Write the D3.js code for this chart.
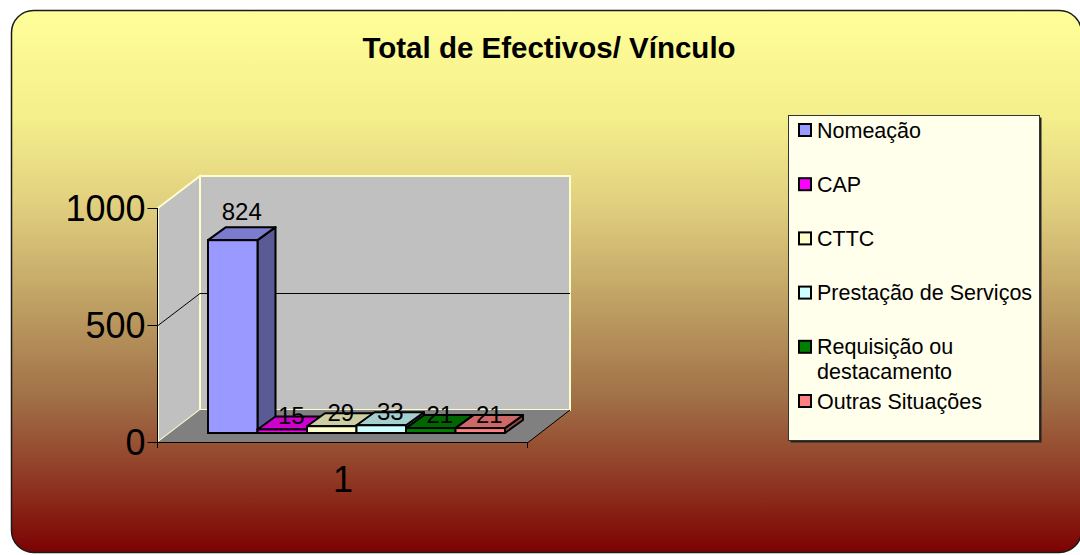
<!DOCTYPE html>
<html>
<head>
<meta charset="utf-8">
<script src="https://cdn.jsdelivr.net/npm/d3@7"></script>
<style>
  html, body { margin: 0; padding: 0; background: #fff; }
  svg { display: block; font-family: 'Liberation Sans', Arial, sans-serif; }
</style>
</head>
<body>
<div class="svg-container"></div>
<script>
const categories = ['1']
const seriesNames = ['Nomeação', 'CAP', 'CTTC', 'Prestação de Serviços', 'Requisição ou destacamento', 'Outras Situações']
const seriesValues = [824, 15, 29, 33, 21, 21]
const seriesColors = ['#9999FF', '#FF00FF', '#FFFFCC', '#CCFFFF', '#008000', '#FF8080']
const yTicks = [0, 500, 1000]
const legendLines = [['Nomeação'], ['CAP'], ['CTTC'], ['Prestação de Serviços'], ['Requisição ou', 'destacamento'], ['Outras Situações']]

const svgWidth = 1080
const svgHeight = 555

// 3d geometry: front plane and the offset of the back plane
const depth = { dx: 42, dy: -32 }
const barOffset = { dx: 12, dy: -9 }
const barDepth = { dx: 18, dy: -13 }

const svg = d3
  .select('.svg-container')
  .append('svg')
  .attr('width', svgWidth)
  .attr('height', svgHeight)

const defs = svg.append('defs')
const grad = defs
  .append('linearGradient')
  .attr('id', 'bg')
  .attr('x1', 0).attr('y1', 0).attr('x2', 0).attr('y2', 1)
const stops = [[0, '#FFFF99'], [0.2, '#F4EE8B'], [0.35, '#E2D180'], [0.55, '#BD9E62'], [0.72, '#A06E46'], [0.85, '#923E27'], [1, '#7C0202']]
stops.forEach(([o, c]) => grad.append('stop').attr('offset', o).attr('stop-color', c))

svg
  .append('rect')
  .attr('x', 11.5)
  .attr('y', 10.5)
  .attr('width', 1070)
  .attr('height', 542)
  .attr('rx', 22)
  .attr('fill', 'url(#bg)')
  .attr('stroke', '#1a1a1a')
  .attr('stroke-width', 1.5)

svg
  .append('text')
  .attr('x', 549)
  .attr('y', 58)
  .attr('text-anchor', 'middle')
  .style('font-size', '29.5px')
  .style('font-weight', 'bold')
  .text('Total de Efectivos/ Vínculo')

const xScale = d3.scaleBand(categories, [158, 528])
const yScale = d3.scaleLinear([0, 1000], [442, 208])
const labelScale = d3.scaleLinear([0, 1000], [428, 176])
const seriesScale = d3.scaleBand(seriesNames, [xScale('1') + 38, xScale('1') + 335])

const x0 = xScale.range()[0]
const x1 = xScale.range()[1]
const y0 = yScale(0)
const yMax = yScale(1000)

const pts = (arr) => arr.map((p) => p.join(',')).join(' ')

// left wall
svg
  .append('polygon')
  .attr('points', pts([[x0, yMax], [x0 + depth.dx, yMax + depth.dy], [x0 + depth.dx, y0 + depth.dy], [x0, y0]]))
  .attr('fill', '#C0C0C0')
  .attr('stroke', '#FFFFCC')
  .attr('stroke-width', 2)

// back wall
svg
  .append('rect')
  .attr('x', x0 + depth.dx)
  .attr('y', yMax + depth.dy)
  .attr('width', x1 - x0)
  .attr('height', y0 - yMax)
  .attr('fill', '#C0C0C0')
  .attr('stroke', '#FFFFCC')
  .attr('stroke-width', 2)

// floor
svg
  .append('polygon')
  .attr('points', pts([[x0, y0], [x0 + depth.dx, y0 + depth.dy], [x1 + depth.dx, y0 + depth.dy], [x1, y0]]))
  .attr('fill', '#808080')

svg
  .append('polyline')
  .attr('points', pts([[x0, y0 + 0.5], [x1, y0 + 0.5], [x1 + depth.dx, y0 + depth.dy]]))
  .attr('fill', 'none')
  .attr('stroke', '#000')
  .attr('stroke-width', 1)

// gridlines
yTicks.filter((t) => t > 0 && t < 1000).forEach((t) => {
  const y = yScale(t) + 0.5
  svg
    .append('polyline')
    .attr('points', pts([[x0, y], [x0 + depth.dx, y + depth.dy], [x1 + depth.dx, y + depth.dy]]))
    .attr('fill', 'none')
    .attr('stroke', '#000')
    .attr('stroke-width', 1)
})

// y axis
const yAxis = svg.append('g').attr('transform', `translate(${x0 - 0.5}, 0)`)
yAxis
  .append('line')
  .attr('y1', yMax)
  .attr('y2', y0)
  .attr('stroke', '#000')
yAxis
  .selectAll('.tick')
  .data(yTicks)
  .join('g')
  .classed('tick', true)
  .each(function (d) {
    const g = d3.select(this)
    g.append('line')
      .attr('x1', -10)
      .attr('x2', 0)
      .attr('y1', yScale(d) + 0.5)
      .attr('y2', yScale(d) + 0.5)
      .attr('stroke', '#000')
    g.append('text')
      .attr('x', -12)
      .attr('y', yScale(d) + 12.5)
      .attr('text-anchor', 'end')
      .style('font-size', '36px')
      .text(d)
  })

// x axis ticks and label
;[x0, x1].forEach((x) => {
  svg
    .append('line')
    .attr('x1', x - 0.5)
    .attr('x2', x - 0.5)
    .attr('y1', y0)
    .attr('y2', y0 + 6)
    .attr('stroke', '#000')
})
svg
  .append('text')
  .attr('x', xScale('1') + xScale.bandwidth() / 2)
  .attr('y', 492)
  .attr('text-anchor', 'middle')
  .style('font-size', '36px')
  .text(categories[0])

// bars
const shade = (c, k) => d3.color(c).darker(k).formatHex()
const bars = svg
  .selectAll('.bar')
  .data(seriesNames.map((name, i) => ({ name, value: seriesValues[i], color: seriesColors[i] })))
  .join('g')
  .classed('bar', true)

bars.each(function (d) {
  const g = d3.select(this)
  const w = seriesScale.bandwidth()
  const bx = seriesScale(d.name) + barOffset.dx
  const top = yScale(d.value) + barOffset.dy
  const bottom = yScale(0) + barOffset.dy
  g.append('polygon')
    .attr('points', pts([[bx + w, top], [bx + w + barDepth.dx, top + barDepth.dy], [bx + w + barDepth.dx, bottom + barDepth.dy], [bx + w, bottom]]))
    .attr('fill', shade(d.color, 1.5))
    .attr('stroke', '#000')
    .attr('stroke-width', 2)
    .attr('stroke-linejoin', 'round')
  g.append('polygon')
    .attr('points', pts([[bx, top], [bx + w, top], [bx + w + barDepth.dx, top + barDepth.dy], [bx + barDepth.dx, top + barDepth.dy]]))
    .attr('fill', shade(d.color, 0.6))
    .attr('stroke', '#000')
    .attr('stroke-width', 2)
    .attr('stroke-linejoin', 'round')
  g.append('rect')
    .attr('x', bx)
    .attr('y', top)
    .attr('width', w)
    .attr('height', bottom - top)
    .attr('fill', d.color)
    .attr('stroke', '#000')
    .attr('stroke-width', 2)
})

bars
  .append('text')
  .attr('x', (d) => seriesScale(d.name) + barOffset.dx + seriesScale.bandwidth() / 2 + 9)
  .attr('y', (d) => labelScale(d.value))
  .attr('text-anchor', 'middle')
  .style('font-size', '24px')
  .text((d) => d.value)

// legend
const legend = svg.append('g').attr('transform', 'translate(788, 115)')
legend
  .append('rect')
  .attr('x', 2.5)
  .attr('y', 2.5)
  .attr('width', 251)
  .attr('height', 325)
  .attr('fill', '#222')
legend
  .append('rect')
  .attr('x', 0.5)
  .attr('y', 0.5)
  .attr('width', 251)
  .attr('height', 325)
  .attr('fill', '#FFFFEC')
  .attr('stroke', '#333')

const legendY = d3.scaleLinear([0, seriesNames.length - 1], [15, 286])
seriesNames.forEach((name, i) => {
  const item = legend.append('g').attr('transform', `translate(0, ${legendY(i)})`)
  item
    .append('rect')
    .attr('x', 11)
    .attr('y', -6)
    .attr('width', 12)
    .attr('height', 12)
    .attr('fill', seriesColors[i])
    .attr('stroke', '#000')
    .attr('stroke-width', 2)
  const text = item
    .append('text')
    .attr('y', 7.5)
    .style('font-size', '21.5px')
  legendLines[i].forEach((line, j) => {
    text.append('tspan').attr('x', 29).attr('dy', j === 0 ? 0 : 25).text(line)
  })
})
</script>
</body>
</html>
